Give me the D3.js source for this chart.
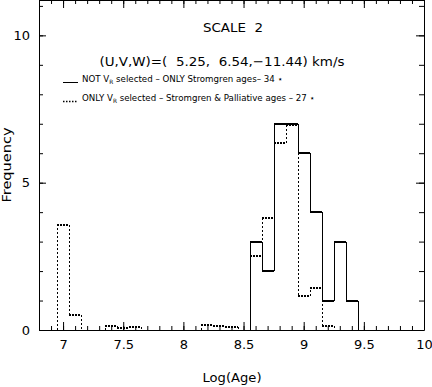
<!DOCTYPE html>
<html>
<head>
<meta charset="utf-8">
<script src="https://cdn.jsdelivr.net/npm/d3@7"></script>
<style>
  body { margin: 0; background: #fff; }
  svg { display: block; }
  text { font-family: "DejaVu Sans", sans-serif; fill: #000; }
</style>
</head>
<body>
<div id="chart"></div>
<script>
// --------------------------------------
//  Data
// --------------------------------------

const binWidth = 0.1;

// NOT V_R selected - ONLY Stromgren ages (34 stars)
const solidCenters = [8.6, 8.7, 8.8, 8.9, 9.0, 9.1, 9.2, 9.3, 9.4];
const solidCounts  = [3, 2, 7, 7, 6, 4, 1, 3, 1];

// ONLY V_R selected - Stromgren & Palliative ages (27 stars)
const dottedCenters = [7.0, 7.1, 7.2, 7.3, 7.4, 7.5, 7.6, 7.7, 7.8, 7.9, 8.0, 8.1,
                       8.2, 8.3, 8.4, 8.5, 8.6, 8.7, 8.8, 8.9, 9.0, 9.1, 9.2];
const dottedCounts  = [3.56, 0.5, 0, 0, 0.15, 0.06, 0.09, 0, 0, 0, 0, 0,
                       0.18, 0.15, 0.11, 0, 2.5, 3.8, 6.33, 6.95, 1.17, 1.44, 0.14];

const xMajorTicks = [7, 7.5, 8, 8.5, 9, 9.5, 10];
const xMinorTicks = d3.range(68, 101).map(d => d / 10);
const yMajorTicks = [0, 5, 10];
const yMinorTicks = d3.range(0, 12);

const titleText  = "SCALE  2";
const uvwText    = "(U,V,W)=(  5.25,  6.54,\u221211.44) km/s";
const legend1    = ["NOT V", "R", " selected \u2013 ONLY Stromgren ages\u2013 34 \u22c6"];
const legend2    = ["ONLY V", "R", " selected \u2013 Stromgren & Palliative ages \u2013 27 \u22c6"];

// --------------------------------------
//  Canvas
// --------------------------------------

const width = 432, height = 387;
const margin = {top: 0, right: 8, bottom: 57, left: 39};

const svg = d3.select("#chart")
  .append("svg")
    .attr("width", width)
    .attr("height", height)
    .attr("viewBox", [0, 0, width, height]);

// --------------------------------------
// Scales
// --------------------------------------

const x = d3.scaleLinear()
    .domain([6.8, 10])
    .range([margin.left, width - margin.right]);

const y = d3.scaleLinear()
    .domain([0, 11.2])
    .range([height - margin.bottom, margin.top]);

// --------------------------------------
// Axes (ticks point inward, frame on 4 sides)
// --------------------------------------

function styleAxis(g, size) {
  g.attr("font-family", null).attr("font-size", null);
  g.selectAll("text").style("font-size", size + "px");
  g.selectAll("line, path").attr("stroke", "#000");
}

const yBottom = height - margin.bottom;

svg.append("g")
    .attr("transform", `translate(0, ${yBottom})`)
    .call(d3.axisBottom(x).tickValues(xMinorTicks).tickSize(-4).tickSizeOuter(0).tickFormat(""))
    .call(g => styleAxis(g, 13));

svg.append("g")
    .attr("transform", `translate(0, ${yBottom})`)
    .call(d3.axisBottom(x).tickValues(xMajorTicks).tickSize(-8).tickSizeOuter(0)
      .tickPadding(10).tickFormat(d3.format("~g")))
    .call(g => g.select(".domain").remove())
    .call(g => styleAxis(g, 13));

svg.append("g")
    .attr("transform", `translate(0, ${margin.top})`)
    .call(d3.axisTop(x).tickValues(xMinorTicks).tickSize(-4).tickSizeOuter(0).tickFormat(""))
    .call(g => styleAxis(g, 13));

svg.append("g")
    .attr("transform", `translate(0, ${margin.top})`)
    .call(d3.axisTop(x).tickValues(xMajorTicks).tickSize(-8).tickSizeOuter(0).tickFormat(""))
    .call(g => g.select(".domain").remove())
    .call(g => styleAxis(g, 13));

svg.append("g")
    .attr("transform", `translate(${margin.left}, 0)`)
    .call(d3.axisLeft(y).tickValues(yMinorTicks).tickSize(-4).tickSizeOuter(0).tickFormat(""))
    .call(g => styleAxis(g, 13));

svg.append("g")
    .attr("transform", `translate(${margin.left}, 0)`)
    .call(d3.axisLeft(y).tickValues(yMajorTicks).tickSize(-7).tickSizeOuter(0).tickPadding(9))
    .call(g => g.select(".domain").remove())
    .call(g => styleAxis(g, 13));

svg.append("g")
    .attr("transform", `translate(${width - margin.right}, 0)`)
    .call(d3.axisRight(y).tickValues(yMinorTicks).tickSize(-5).tickSizeOuter(0).tickFormat(""))
    .call(g => styleAxis(g, 13));

svg.append("g")
    .attr("transform", `translate(${width - margin.right}, 0)`)
    .call(d3.axisRight(y).tickValues(yMajorTicks).tickSize(-8).tickSizeOuter(0).tickFormat(""))
    .call(g => g.select(".domain").remove())
    .call(g => styleAxis(g, 13));

// --------------------------------------
// Histogram outlines
// --------------------------------------

function drawSteps(centers, counts, hWidth, hDash, vWidth, vDash) {
  const bins = centers.map((c, i) => ({x0: c - binWidth / 2, x1: c + binWidth / 2, v: counts[i]}));

  const edges = [];
  for (let i = 0; i <= bins.length; i++) {
    const prev = i === 0 ? 0 : bins[i - 1].v;
    const cur  = i === bins.length ? 0 : bins[i].v;
    const ex   = i === bins.length ? bins[i - 1].x1 : bins[i].x0;
    if (prev !== cur) edges.push({ex, a: prev, b: cur});
  }

  const g = svg.append("g").attr("shape-rendering", "crispEdges");

  g.selectAll("line.h")
    .data(bins.filter(d => d.v > 0))
    .join("line")
      .attr("class", "h")
      .attr("x1", d => x(d.x0))
      .attr("x2", d => x(d.x1))
      .attr("y1", d => y(d.v))
      .attr("y2", d => y(d.v))
      .attr("stroke", "#000")
      .attr("stroke-width", hWidth)
      .attr("stroke-dasharray", hDash);

  g.selectAll("line.v")
    .data(edges)
    .join("line")
      .attr("class", "v")
      .attr("x1", d => Math.round(x(d.ex)) + 0.5)
      .attr("x2", d => Math.round(x(d.ex)) + 0.5)
      .attr("y1", d => y(d.a))
      .attr("y2", d => y(d.b))
      .attr("stroke", "#000")
      .attr("stroke-width", vWidth)
      .attr("stroke-dasharray", vDash);
}

drawSteps(dottedCenters, dottedCounts, 2, "2,1", 1, "2,2");
drawSteps(solidCenters, solidCounts, 2, null, 1, null);

// --------------------------------------
// Titles and legend
// --------------------------------------

svg.append("text")
    .attr("x", 233).attr("y", 32)
    .attr("text-anchor", "middle")
    .style("font-size", "12px")
    .style("white-space", "pre")
    .attr("textLength", 60).attr("lengthAdjust", "spacingAndGlyphs")
    .text(titleText);

svg.append("text")
    .attr("x", 222).attr("y", 66)
    .attr("text-anchor", "middle")
    .style("font-size", "13px")
    .style("white-space", "pre")
    .attr("textLength", 245).attr("lengthAdjust", "spacingAndGlyphs")
    .text(uvwText);

function legendRow(parts, yPos, len, dash) {
  svg.append("line")
      .attr("x1", 63).attr("x2", 78)
      .attr("y1", yPos + 0.5).attr("y2", yPos + 0.5)
      .attr("stroke", "#000")
      .attr("stroke-width", dash ? 1.5 : 1)
      .attr("stroke-dasharray", dash);

  const t = svg.append("text")
      .attr("x", 82).attr("y", yPos)
      .style("font-size", "9px")
      .attr("textLength", len).attr("lengthAdjust", "spacingAndGlyphs");
  t.append("tspan").text(parts[0]);
  t.append("tspan").attr("dy", 2).style("font-size", "6px").text(parts[1]);
  t.append("tspan").attr("dy", -2).text(parts[2]);
}

legendRow(legend1, 82, 201, null);
legendRow(legend2, 101, 233, "1.5,1.5");

// axis titles
svg.append("text")
    .attr("x", 232).attr("y", 382)
    .attr("text-anchor", "middle")
    .style("font-size", "13px")
    .attr("textLength", 59).attr("lengthAdjust", "spacingAndGlyphs")
    .text("Log(Age)");

svg.append("text")
    .attr("transform", "translate(11, 165) rotate(-90)")
    .attr("text-anchor", "middle")
    .style("font-size", "13px")
    .attr("textLength", 75).attr("lengthAdjust", "spacingAndGlyphs")
    .text("Frequency");
</script>
</body>
</html>
